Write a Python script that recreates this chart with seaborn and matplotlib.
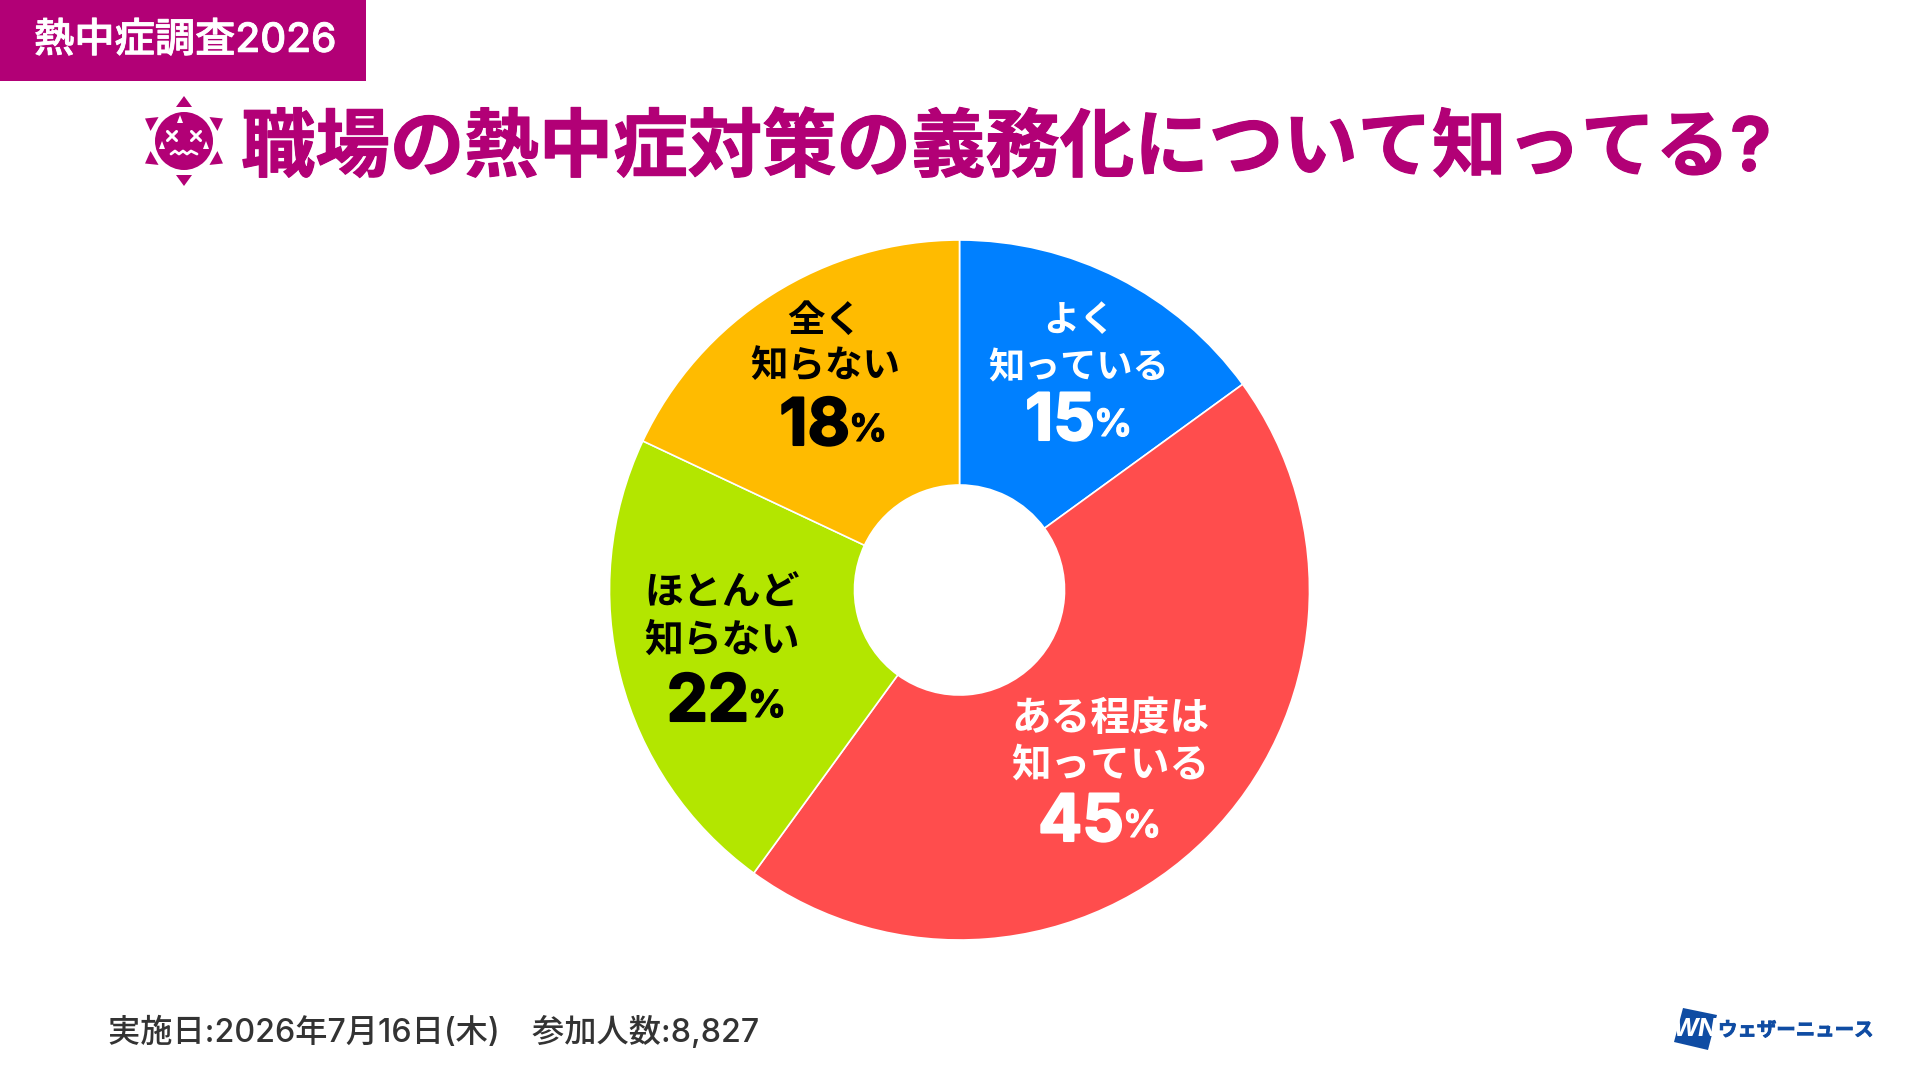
import matplotlib
matplotlib.use("Agg")
import matplotlib.pyplot as plt
import matplotlib.patheffects as pe
from matplotlib.patches import Circle, Polygon, Rectangle
import numpy as np
import seaborn as sns

categories = ["よく\n知っている", "ある程度は\n知っている", "ほとんど\n知らない", "全く\n知らない"]
values = [15, 45, 22, 18]
colors = ["#0080ff", "#ff4d4d", "#b3e600", "#ffbb00"]
label_colors = ["white", "white", "black", "black"]
banner_text = "熱中症調査2026"
title_text = "職場の熱中症対策の義務化について知ってる?"
footer_text = "実施日:2026年7月16日(木)　参加人数:8,827"
brand_text = "ウェザーニュース"

MAGENTA = "#b20076"
NAVY = "#0f4ca3"

sns.set_theme(style="white")
plt.rcParams["font.family"] = ["Inter", "Noto Sans CJK JP", "DejaVu Sans"]

fig = plt.figure(figsize=(19.2, 10.8), dpi=100, facecolor="white")

# donut
cx, cy, R = 959.5, 590, 350
pie_ax = fig.add_axes([(cx - R) / 1920, (1080 - cy - R) / 1080, 2 * R / 1920, 2 * R / 1080])
pie_ax.pie(values, colors=colors, startangle=90, counterclock=False, radius=1,
           wedgeprops=dict(width=0.7, edgecolor="white", linewidth=1.2))
pie_ax.set_xlim(-1, 1)
pie_ax.set_ylim(-1, 1)
pie_ax.axis("off")

# overlay in pixel coordinates
ax = fig.add_axes([0, 0, 1, 1], facecolor="none")
ax.set_xlim(0, 1920)
ax.set_ylim(1080, 0)
ax.axis("off")

# banner
ax.add_patch(Rectangle((0, 0), 366, 81, color=MAGENTA, lw=0))
ax.text(34, 41, banner_text, color="white", fontsize=29, fontweight="medium", va="center", ha="left",
        path_effects=[pe.withStroke(linewidth=0.6, foreground="white")])

# title
ax.text(241, 150, title_text, color=MAGENTA, fontsize=53.6, fontweight="bold", va="center", ha="left",
        path_effects=[pe.withStroke(linewidth=0.8, foreground=MAGENTA)])

# icon
ix, iy = 184, 141
ax.add_patch(Circle((ix, iy), 29, color=MAGENTA, lw=0))
for deg in range(30, 360, 60):
    a = np.deg2rad(deg + 60)
    u = np.array([np.cos(a), np.sin(a)])
    v = np.array([-u[1], u[0]])
    c = np.array([ix, iy])
    ax.add_patch(Polygon([c + u * 45, c + u * 34 + v * 8, c + u * 34 - v * 8], color=MAGENTA, lw=0))
for dx in (-12, 12):
    ax.plot([ix + dx - 4.5, ix + dx + 4.5], [iy - 9.5, iy - 0.5], color="white", lw=2.2)
    ax.plot([ix + dx - 4.5, ix + dx + 4.5], [iy - 0.5, iy - 9.5], color="white", lw=2.2)
ax.plot([ix - 13, ix - 9, ix - 5, ix - 1, ix + 3, ix + 7, ix + 13],
        [iy + 13, iy + 10, iy + 13, iy + 10, iy + 13, iy + 10, iy + 13], color="white", lw=2.0)
for dx, dy in ((-4, -21), (-22, 5), (22, 5)):
    ax.add_patch(Polygon([(ix + dx, iy + dy - 5), (ix + dx + 3, iy + dy + 3), (ix + dx - 3, iy + dy + 3)],
                         color="white", lw=0))

# pie labels: text x, line 1 y, line 2 y, number right edge, number y, text size
label_xy = [(1079, 322, 368, 1095, 423, 26), (1110, 719, 766, 1124, 824, 28.5),
            (722, 594, 641, 749, 704, 28), (825, 322, 368, 850, 428, 27)]
for cat, val, col, (x, y1, y2, nx, ny, fs) in zip(categories, values, label_colors, label_xy):
    l1, l2 = cat.split("\n")
    ax.text(x, y1, l1, color=col, fontsize=fs, fontweight="bold", ha="center", va="center")
    ax.text(x, y2, l2, color=col, fontsize=fs, fontweight="bold", ha="center", va="center")
    ax.text(nx, ny, str(val), color=col, fontsize=47, fontweight="bold", ha="right", va="center",
            path_effects=[pe.withStroke(linewidth=1.5, foreground=col)])
    ax.text(nx - 1, ny + 3, "%", color=col, fontsize=27, fontweight="bold", ha="left", va="center",
            path_effects=[pe.withStroke(linewidth=0.8, foreground=col)])

# footer
ax.text(108, 1032, footer_text, color="#333333", fontsize=23.2, ha="left", va="center", fontweight="medium")

# brand
ax.add_patch(Polygon([(1683, 1008), (1717, 1015), (1708, 1050), (1674, 1042)], color=NAVY, lw=0))
ax.text(1695, 1030, "WN", color="white", fontsize=18, fontweight="bold", style="italic", ha="center", va="center")
ax.text(1718, 1031, brand_text, color=NAVY, fontsize=14, fontweight="bold", ha="left", va="center",
        path_effects=[pe.withStroke(linewidth=0.6, foreground=NAVY)])

fig.savefig("out.png", dpi=100, facecolor="white")
